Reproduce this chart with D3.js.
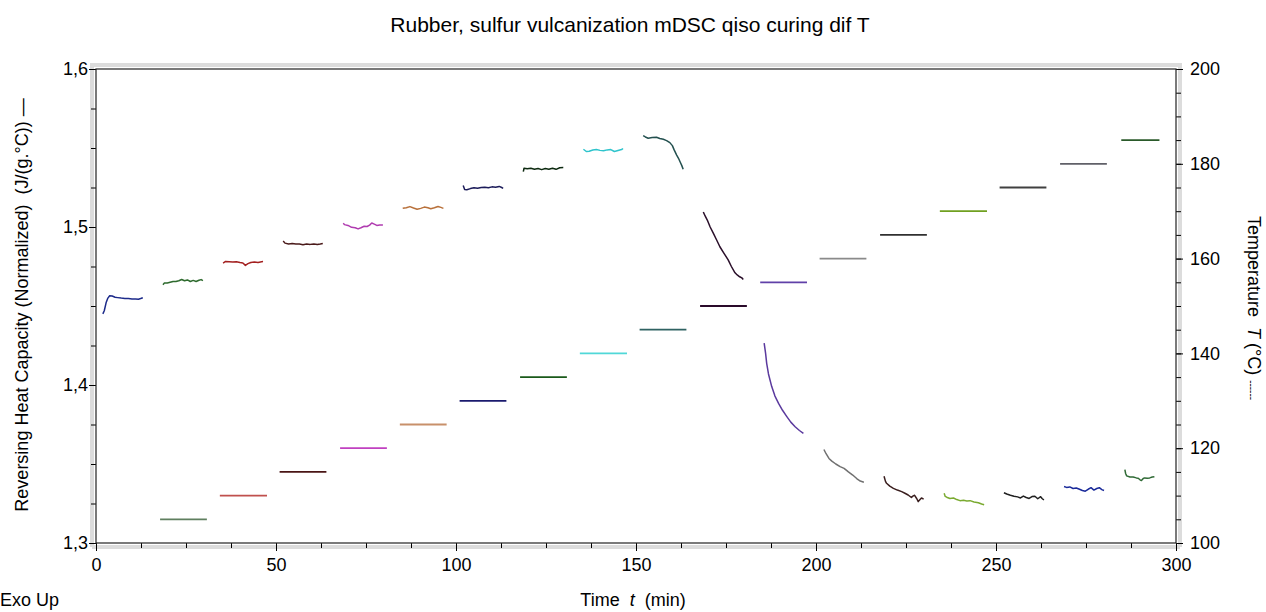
<!DOCTYPE html>
<html>
<head>
<meta charset="utf-8">
<script src="https://cdn.jsdelivr.net/npm/d3@7"></script>
<style>
    body { margin: 0; background: #fff; }
    svg { display: block; font-family: "Liberation Sans", Arial, sans-serif; }
    .tick text { font-size: 18px; fill: #000; }
</style>
</head>
<body>
<svg width="1266" height="612"></svg>
<script>
// isothermal steps (deg C); step 0 at 100 lies on the axis and is not drawn
const stepTemps = [105, 110, 115, 120, 125, 130, 135, 140, 145, 150, 155, 160, 165, 170, 175, 180, 185];
const tempStart = [17.8, 34.4, 51, 67.8, 84.4, 101, 117.8, 134.4, 151, 167.8, 184.5, 201, 217.8, 234.4, 251, 267.8, 284.8];
const tempEnd   = [30.8, 47.5, 64, 80.8, 97.4, 114, 130.8, 147.5, 164, 180.8, 197.5, 214, 230.8, 247.5, 264, 280.8, 295.4];

// reversing heat capacity traces, [time min, Cp J/(g.°C)], one per step (100..185)
const cpTraces = [
    [[1.9,1.445],[2.3,1.447],[2.8,1.452],[3.3,1.455],[3.8,1.4565],[4.5,1.4563],[5.3,1.4555],[6,1.4553],[7,1.455],[8,1.4548],[9,1.4547],[10,1.4545],[11,1.4545],[11.8,1.4543],[12.4,1.4547],[13,1.4552]],
    [[18.6,1.4635],[19,1.4645],[19.8,1.4645],[20.6,1.465],[21.4,1.4655],[22.2,1.4655],[23,1.466],[23.8,1.4668],[24.6,1.466],[25.4,1.4665],[26.2,1.4655],[27,1.4662],[27.8,1.4655],[28.6,1.4663],[29.2,1.4667],[29.7,1.466]],
    [[35.3,1.4772],[36,1.4782],[37,1.478],[38,1.4778],[39,1.478],[40,1.4775],[40.8,1.4772],[41.5,1.4757],[42.2,1.4768],[43,1.4775],[44,1.4778],[45,1.4776],[46,1.478],[46.4,1.4781]],
    [[52,1.4912],[52.5,1.4898],[53.5,1.4893],[54.5,1.4895],[55.5,1.4892],[56.5,1.4893],[57.5,1.4888],[58.5,1.4892],[59.5,1.489],[60.5,1.4893],[61.5,1.4889],[62.3,1.4892],[63,1.4895]],
    [[68.7,1.5025],[69,1.5015],[70,1.501],[71,1.4998],[72,1.4995],[72.8,1.4988],[73.6,1.4995],[74.5,1.5005],[75.3,1.5003],[76,1.5012],[76.6,1.5025],[77.3,1.5018],[78,1.501],[78.8,1.5013],[79.7,1.5012]],
    [[85.2,1.5118],[86.2,1.5122],[87.2,1.5129],[88.2,1.512],[89.2,1.5112],[90.2,1.5118],[91.2,1.5126],[92.2,1.5122],[93,1.5116],[94,1.5122],[95,1.513],[95.8,1.5124],[96.5,1.5118]],
    [[102,1.5262],[102.4,1.5238],[103,1.5236],[104,1.5243],[105,1.5248],[106,1.5245],[107,1.525],[108,1.5252],[109,1.5248],[110,1.5254],[111,1.5252],[112,1.5257],[112.7,1.525],[113.1,1.5245]],
    [[118.7,1.535],[118.9,1.5372],[119.8,1.5368],[120.8,1.5372],[121.8,1.5365],[122.8,1.537],[123.8,1.5363],[124.8,1.537],[125.8,1.5366],[126.8,1.5372],[127.8,1.5365],[128.8,1.5375],[129.8,1.5376]],
    [[135.4,1.5492],[136.2,1.5478],[137,1.548],[138,1.5487],[139,1.549],[140,1.5485],[141,1.5482],[142,1.5488],[143,1.549],[144,1.5478],[145,1.5484],[146,1.549],[146.4,1.5497]],
    [[152,1.5578],[152.6,1.557],[153.4,1.5562],[154.5,1.5566],[155.7,1.5568],[156.6,1.556],[157.6,1.5555],[158.5,1.5547],[159.4,1.5534],[160.1,1.5515],[160.6,1.5488],[161.3,1.5455],[161.8,1.5435],[162.3,1.541],[162.7,1.539],[163.1,1.5365]],
    [[168.7,1.5095],[169.2,1.507],[169.8,1.5044],[170.6,1.5],[171.5,1.496],[172.4,1.4918],[173.3,1.4875],[174.4,1.4835],[175.6,1.4792],[176.5,1.475],[177.5,1.471],[178.2,1.4695],[178.8,1.4685],[179.4,1.4678],[179.8,1.4668]],
    [[185.6,1.4265],[186,1.42],[186.3,1.4137],[186.8,1.407],[187.7,1.399],[188.6,1.393],[189.6,1.3884],[190.7,1.384],[191.9,1.38],[193,1.3765],[194.2,1.3736],[195.4,1.3712],[196.5,1.3694]],
    [[202.2,1.3592],[202.8,1.3565],[203.6,1.3535],[204.4,1.3518],[205.5,1.35],[206.7,1.3483],[207.8,1.3472],[209,1.345],[210.2,1.343],[211.3,1.3408],[212.3,1.3392],[213.3,1.3385]],
    [[218.9,1.3422],[219.3,1.339],[219.6,1.3378],[220.5,1.336],[221.5,1.3346],[222.6,1.3335],[223.8,1.3325],[224.7,1.3315],[225.6,1.3304],[226.5,1.3288],[227,1.3298],[227.4,1.3302],[228,1.328],[228.4,1.3262],[228.9,1.3275],[229.3,1.3285],[229.9,1.3278]],
    [[235.6,1.3315],[235.9,1.3295],[236.3,1.329],[237.2,1.3282],[238.2,1.3285],[239.1,1.3275],[240,1.3268],[241,1.327],[241.9,1.3266],[242.8,1.3268],[243.9,1.326],[245.1,1.3255],[246,1.3247],[246.7,1.3242]],
    [[252.2,1.3318],[253,1.331],[254,1.3302],[255,1.3296],[256,1.3292],[256.8,1.3285],[257.6,1.3297],[258.4,1.3288],[259.2,1.3282],[260,1.3294],[260.8,1.3296],[261.6,1.328],[262.4,1.3293],[262.8,1.3282],[263.3,1.3272]],
    [[268.9,1.3358],[269.6,1.3352],[270.5,1.3355],[271.4,1.3345],[272.3,1.3348],[273.2,1.334],[274,1.3332],[274.8,1.3328],[275.6,1.334],[276.4,1.335],[277.2,1.3335],[278,1.3345],[278.7,1.335],[279.4,1.3338],[280,1.3332]],
    [[285.8,1.3465],[286,1.344],[286.3,1.3425],[287.2,1.3418],[288.1,1.3418],[289,1.3412],[289.5,1.341],[290,1.34],[290.4,1.3395],[290.9,1.3408],[291.3,1.3412],[292,1.341],[292.7,1.3412],[293.4,1.3418],[294,1.342]]
];

const xTicks = [0, 50, 100, 150, 200, 250, 300];
const cpTicks = [1.3, 1.4, 1.5, 1.6];
const tTicks = [100, 120, 140, 160, 180, 200];

// colours
const cpColors = ["#1c2a8a", "#2d6a2d", "#a32020", "#4a1a1a", "#b03cb0", "#b8703a", "#1c1c5a", "#0d2a10", "#2ec4cc",
    "#23504f", "#2a0f2a", "#5b3a9e", "#707070", "#3a1e1e", "#7aaa30", "#202020", "#1a2a9a", "#2f6a35"];
const tempColors = ["#5f7f5f", "#c0504d", "#4a1515", "#c040c0", "#c8906a", "#1a1a6e", "#1a5a1a", "#50d8d8", "#2f6262",
    "#2a0a2a", "#6040a8", "#8a8a8a", "#303030", "#70a020", "#404040", "#606068", "#2a5a2a"];

const svg = d3.select("svg");
const plotLeft = 96, plotRight = 1176, plotTop = 69, plotBottom = 543;

const x = d3.scaleLinear().domain([0, 300]).range([plotLeft, plotRight]);
const yCp = d3.scaleLinear().domain([1.3, 1.6]).range([plotBottom, plotTop]);
const yT = d3.scaleLinear().domain([100, 200]).range([plotBottom, plotTop]);

const comma = d => d3.format(".1f")(d).replace(".", ",");

// light grey shadow round the frame
const shade = svg.append("g").attr("stroke", "#dcdcdc").attr("stroke-width", 4).attr("fill", "none");
shade.append("line").attr("x1", plotLeft - 6).attr("x2", plotRight + 6).attr("y1", plotTop - 4).attr("y2", plotTop - 4);
shade.append("line").attr("x1", plotLeft - 4).attr("x2", plotLeft - 4).attr("y1", plotTop - 4).attr("y2", plotBottom + 4);
shade.append("line").attr("x1", plotRight + 4).attr("x2", plotRight + 4).attr("y1", plotTop - 4).attr("y2", plotBottom + 4);
shade.append("line").attr("x1", plotLeft - 4).attr("x2", plotRight + 4).attr("y1", plotBottom + 4).attr("y2", plotBottom + 4);

// axes
function minor(g) { g.select(".domain").remove(); g.selectAll("text").remove(); }

svg.append("g").attr("transform", `translate(0,${plotBottom})`)
    .call(d3.axisBottom(x).tickValues(d3.range(0, 300.01, 12.5)).tickSize(5).tickFormat(""))
    .call(minor);
svg.append("g").attr("transform", `translate(0,${plotBottom})`)
    .call(d3.axisBottom(x).tickValues(xTicks).tickSize(8).tickPadding(7).tickSizeOuter(0))
    .call(g => g.select(".domain").remove());

svg.append("g").attr("transform", `translate(${plotLeft},0)`)
    .call(d3.axisLeft(yCp).tickValues(d3.range(1.3, 1.6001, 0.025)).tickSize(5).tickFormat(""))
    .call(minor);
svg.append("g").attr("transform", `translate(${plotLeft},0)`)
    .call(d3.axisLeft(yCp).tickValues(cpTicks).tickSize(7).tickPadding(1).tickFormat(comma))
    .call(g => g.select(".domain").remove());

svg.append("g").attr("transform", `translate(${plotRight},0)`)
    .call(d3.axisRight(yT).tickValues(d3.range(100, 200.01, 5)).tickSize(5).tickFormat(""))
    .call(minor);
svg.append("g").attr("transform", `translate(${plotRight},0)`)
    .call(d3.axisRight(yT).tickValues(tTicks).tickSize(7).tickPadding(7))
    .call(g => g.select(".domain").remove());

svg.selectAll(".tick line").attr("stroke", "#000");

// frame
svg.append("rect")
    .attr("x", plotLeft).attr("y", plotTop)
    .attr("width", plotRight - plotLeft).attr("height", plotBottom - plotTop)
    .attr("fill", "none").attr("stroke", "#222").attr("stroke-width", 1.2);

// temperature steps
svg.append("g").selectAll("line")
    .data(stepTemps)
    .enter().append("line")
    .attr("x1", (d, i) => x(tempStart[i]))
    .attr("x2", (d, i) => x(tempEnd[i]))
    .attr("y1", d => yT(d))
    .attr("y2", d => yT(d))
    .attr("stroke", (d, i) => tempColors[i])
    .attr("stroke-width", 1.8);

// heat capacity traces
const line = d3.line().x(d => x(d[0])).y(d => yCp(d[1]));
svg.append("g").selectAll("path")
    .data(cpTraces)
    .enter().append("path")
    .attr("d", line)
    .attr("fill", "none")
    .attr("stroke", (d, i) => cpColors[i])
    .attr("stroke-width", 1.5)
    .attr("stroke-linejoin", "round");

// titles
svg.append("text")
    .attr("x", 630).attr("y", 32)
    .attr("text-anchor", "middle")
    .style("font-size", "21px")
    .style("font-weight", 500)
    .text("Rubber, sulfur vulcanization mDSC qiso curing dif T");

const xLabel = svg.append("text")
    .attr("x", 633).attr("y", 606)
    .attr("text-anchor", "middle")
    .style("font-size", "18px")
    .attr("xml:space", "preserve");
xLabel.append("tspan").text("Time  ");
xLabel.append("tspan").style("font-style", "italic").text("t");
xLabel.append("tspan").text("  (min)");

svg.append("text")
    .attr("transform", "translate(28,305) rotate(-90)")
    .attr("text-anchor", "middle")
    .style("font-size", "18px")
    .attr("xml:space", "preserve")
    .text("Reversing Heat Capacity (Normalized)  (J/(g.°C)) —");

const tLabel = svg.append("text")
    .attr("transform", "translate(1248,308) rotate(90)")
    .attr("text-anchor", "middle")
    .style("font-size", "18px")
    .attr("xml:space", "preserve");
tLabel.append("tspan").text("Temperature  ");
tLabel.append("tspan").style("font-style", "italic").text("T");
tLabel.append("tspan").text(" (°C) ");
tLabel.append("tspan").style("font-size", "10px").text("------");

svg.append("text")
    .attr("x", 0).attr("y", 606)
    .style("font-size", "18px")
    .text("Exo Up");
</script>
</body>
</html>
